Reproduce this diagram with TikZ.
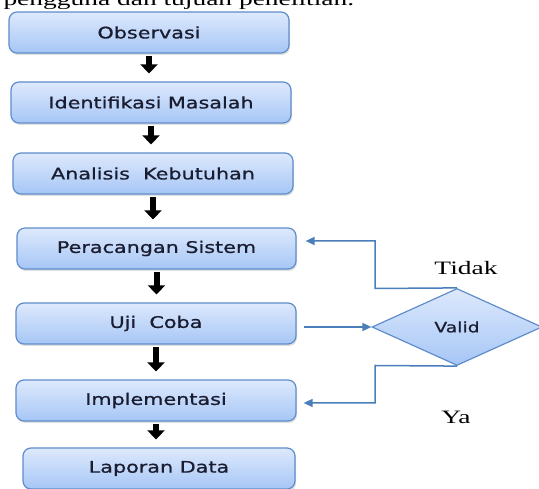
\documentclass[tikz,border=0pt]{standalone}
\usepackage{fontspec}
\setmainfont{Liberation Serif}[FakeStretch=1.45]
\newfontfamily\boxfont{DejaVu Sans}[FakeStretch=1.3,FakeBold=0.8]
\usetikzlibrary{arrows.meta,shapes.geometric,shadows}
\definecolor{boxline}{HTML}{5F8DCB}
\definecolor{boxtop}{HTML}{DDE9FC}
\definecolor{boxbottom}{HTML}{A6C6F6}
\definecolor{linkblue}{HTML}{4A7EBB}
\definecolor{boxtext}{HTML}{1A1C30}
\tikzset{
  stage/.style={draw=boxline, line width=1.2bp, rounded corners=8bp,
    top color=boxtop, bottom color=boxbottom,
    minimum width=280bp, minimum height=41bp, inner sep=0pt,
    font=\boxfont\fontsize{16}{18}\selectfont, text=boxtext,
    drop shadow={opacity=0.25, shadow xshift=1bp, shadow yshift=-2bp}},
  decision/.style={diamond, aspect=2.2, draw=boxline, line width=1.2bp,
    top color=boxtop, bottom color=boxbottom,
    minimum width=170bp, minimum height=77bp, inner sep=0pt,
    font=\boxfont\fontsize{14.5}{16}\selectfont, text=boxtext},
  flow/.style={-{Triangle[width=17bp,length=9bp]}, line width=6bp, black,
    shorten <=2bp, shorten >=8bp},
  link/.style={-{Triangle[width=8bp,length=9bp]}, line width=1.5bp, linkblue},
  answer/.style={font=\fontsize{19}{22}\selectfont, text=black}
}
\begin{document}
\begin{tikzpicture}[x=1bp,y=1bp]
      \useasboundingbox (0,0) rectangle (539,489);
      \node[answer, anchor=base west] (caption) at (0,483) {pengguna dan tujuan penelitian.};
      \draw
        (149,456.5) node[stage] (observasi){Observasi}
        (151,386.5) node[stage] (identifikasi){Identifikasi Masalah}
        (153,315.5) node[stage] (analisis){Analisis~ Kebutuhan}
        (156.5,240.5) node[stage, minimum width=279bp] (peracangan){Peracangan Sistem}
        (156,165.5) node[stage] (ujicoba){Uji~ Coba}
        (156,88.5) node[stage] (implementasi){Implementasi}
        (159,20.5) node[stage, minimum width=272bp] (laporan){Laporan Data}
        (457,162) node[decision] (valid){Valid};
      \node[answer] (tidak) at (466,221) {Tidak};
      \node[answer] (ya) at (456,72) {Ya};
      \coordinate (tidakturn) at (375,200.5);
      \coordinate (yaturn) at (375,123.5);
      \begin{scope}[flow]
        \draw (observasi.south) to (observasi.south |- identifikasi.north);
        \draw (identifikasi.south) to (identifikasi.south |- analisis.north);
        \draw (analisis.south) to (analisis.south |- peracangan.north);
        \draw (peracangan.south) to (peracangan.south |- ujicoba.north);
        \draw (ujicoba.south) to (ujicoba.south |- implementasi.north);
        \draw (implementasi.south) to (implementasi.south |- laporan.north);
      \end{scope}
      \begin{scope}[link]
        \draw[shorten >=9bp] (valid.north) -- (tidakturn) |- ([yshift=7.5bp]peracangan.east);
        \draw[shorten <=7bp] (ujicoba.east |- valid.west) -- (valid.west);
        \draw[shorten >=7bp] (valid.south) -- (yaturn) |- ([yshift=-2.5bp]implementasi.east);
      \end{scope}
    \end{tikzpicture}
\end{document}
